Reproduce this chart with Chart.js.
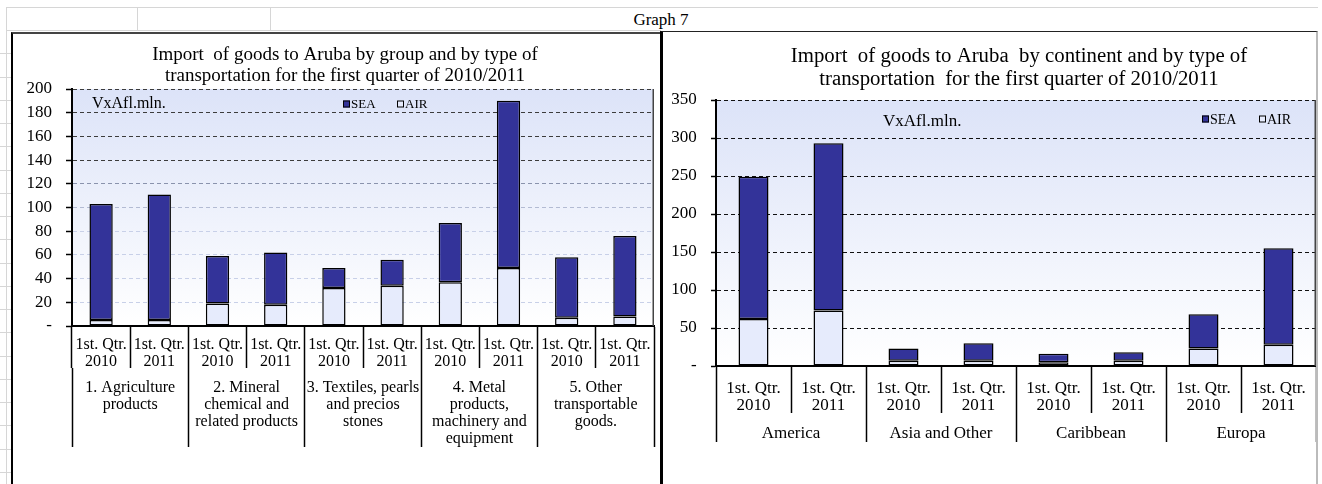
<!DOCTYPE html>
<html>
<head>
<meta charset="utf-8">
<script src="https://cdn.jsdelivr.net/npm/chart.js@4.4.0/dist/chart.umd.min.js"></script>
<style>
body{margin:0;background:#fff;width:1322px;height:484px;overflow:hidden;position:relative;font-family:'Liberation Serif','Times New Roman',serif}
.ln{position:absolute;background:#d6d6d6}
#graphTitle{position:absolute;left:0;width:1322px;top:10px;text-align:center;font-size:17px;line-height:20px}
#boxL{position:absolute;left:11px;top:32px;width:649px;height:460px;border-left:2px solid #000;border-top:2px solid #444}
#boxR{position:absolute;left:660px;top:31px;width:653px;height:460px;border-left:3px solid #000;border-top:1px solid #222;border-right:2px solid #bbb}
canvas{position:absolute}
</style>
</head>
<body>
<div id="grid"></div>
<div id="boxL"></div>
<div id="boxR"></div>
<div id="graphTitle">Graph 7</div>
<canvas id="cL" width="647" height="450" style="left:13px;top:34px"></canvas>
<canvas id="cR" width="653" height="452" style="left:663px;top:32px"></canvas>
<script>
// values (VxAfl. mln.)
var periods = [['1st. Qtr.', '2010'], ['1st. Qtr.', '2011']];

var groupsL = [['1. Agriculture', 'products'], ['2. Mineral', 'chemical and', 'related products'],
  ['3. Textiles, pearls', 'and precios', 'stones'], ['4. Metal', 'products,', 'machinery and', 'equipment'],
  ['5. Other', 'transportable', 'goods.']];
var airL = [5, 5, 19, 18, 32, 34, 37, 49, 7, 8];
var seaL = [98, 106, 40, 44, 17, 22, 50, 141, 51, 68];

var groupsR = ['America', 'Asia and Other', 'Caribbean', 'Europa'];
var airR = [62, 73, 7, 7, 5, 7, 23, 28];
var seaR = [187, 220, 16, 23, 11, 11, 45, 127];

var FONT = "'Liberation Serif', 'Times New Roman', serif";
var SEA_COLOR = '#333399';
var AIR_COLOR = '#e6ebfc';

// spreadsheet cell lines behind the charts
(function () {
  var g = document.getElementById('grid');
  function line(x, y, w, h) {
    var d = document.createElement('div');
    d.className = 'ln';
    d.style.cssText = 'left:' + x + 'px;top:' + y + 'px;width:' + w + 'px;height:' + h + 'px';
    g.appendChild(d);
  }
  line(6, 7, 1312, 1);
  line(6, 30, 655, 1);
  line(6, 7, 1, 480);
  line(137, 7, 1, 24);
  line(270, 7, 1, 24);
  for (var k = 2; k < 21; k++) line(0, Math.round(6.8 + 23.26 * k), 11, 1);
})();

var decor = {
  id: 'decor',
  beforeDraw: function (chart) {
    var ctx = chart.ctx, a = chart.chartArea;
    var g = ctx.createLinearGradient(0, a.top, 0, a.bottom);
    g.addColorStop(0, '#dce3f8');
    g.addColorStop(1, '#ffffff');
    ctx.save();
    ctx.fillStyle = g;
    ctx.fillRect(a.left, a.top, a.right - a.left, a.bottom - a.top);
    ctx.restore();
  },
  afterDraw: function (chart, args, o) {
    var ctx = chart.ctx, a = chart.chartArea;
    ctx.save();
    // right edge of plot
    ctx.strokeStyle = '#444';
    ctx.lineWidth = 1.5;
    ctx.beginPath();
    ctx.moveTo(a.right - 0.75, a.top);
    ctx.lineTo(a.right - 0.75, a.bottom);
    ctx.stroke();
    // title
    ctx.fillStyle = '#000';
    ctx.textAlign = 'center';
    ctx.textBaseline = 'middle';
    ctx.font = o.title.size + 'px ' + FONT;
    o.title.lines.forEach(function (t, i) {
      ctx.fillText(t, o.title.x, o.title.y + i * o.title.lh);
    });
    // unit note
    ctx.textAlign = 'left';
    ctx.font = o.note.size + 'px ' + FONT;
    ctx.fillText(o.note.text, o.note.x, o.note.y);
    // legend, SEA first
    ctx.font = o.legend.size + 'px ' + FONT;
    var x = o.legend.x;
    ['SEA', 'AIR'].forEach(function (name) {
      var ds = chart.data.datasets.find(function (d) { return d.label === name; });
      ctx.fillStyle = ds.backgroundColor;
      ctx.fillRect(x, o.legend.y - 3.5, 7, 7);
      ctx.strokeStyle = '#000';
      ctx.lineWidth = 1;
      ctx.strokeRect(x + 0.5, o.legend.y - 3, 6, 6);
      ctx.fillStyle = '#000';
      ctx.fillText(name, x + 8, o.legend.y + 1);
      x += o.legend.gap;
    });
    ctx.restore();
  }
};

function build(id, groups, air, sea, L) {
  var labels = [];
  groups.forEach(function () { labels.push(periods[0], periods[1]); });
  return new Chart(document.getElementById(id), {
    type: 'bar',
    data: {
      labels: labels,
      datasets: [
        { label: 'AIR', data: air, backgroundColor: AIR_COLOR },
        { label: 'SEA', data: sea, backgroundColor: SEA_COLOR }
      ]
    },
    options: {
      responsive: false,
      animation: false,
      layout: { padding: { left: 0, right: L.padRight, top: L.padTop, bottom: L.padBottom } },
      datasets: { bar: { barPercentage: 0.4, categoryPercentage: 1, borderColor: '#000', borderWidth: 1.5, borderSkipped: false } },
      plugins: {
        legend: { display: false },
        tooltip: { enabled: false },
        decor: L.decor
      },
      scales: {
        x: {
          stacked: true,
          offset: true,
          afterFit: function (s) { s.height = L.xH; },
          ticks: { autoSkip: false, maxRotation: 0, minRotation: 0, padding: L.xPad, color: '#000',
            font: { family: FONT, size: L.xSize, lineHeight: L.xLH } },
          grid: { drawOnChartArea: false, offset: true, tickLength: L.xH, tickColor: '#000', tickWidth: 1.5 },
          border: { color: '#000', width: 2 }
        },
        x2: {
          type: 'category',
          labels: groups,
          position: 'bottom',
          weight: 1,
          offset: true,
          afterFit: function (s) { s.height = L.x2H; },
          ticks: { autoSkip: false, maxRotation: 0, minRotation: 0, padding: L.x2Pad, color: '#000',
            font: { family: FONT, size: L.xSize, lineHeight: L.xLH } },
          grid: { drawOnChartArea: false, offset: true, tickLength: L.x2H, tickColor: '#000', tickWidth: 1.5 },
          border: { display: false }
        },
        y: {
          stacked: true,
          min: 0,
          max: L.max,
          afterFit: function (s) { s.width = L.yW; },
          ticks: { stepSize: L.step, padding: L.yPad, color: '#000', font: { family: FONT, size: L.ySize },
            callback: function (v) { return v === 0 ? '-' : v; } },
          grid: { color: L.gridColor, lineWidth: 1, tickColor: '#000', tickLength: L.yTick, tickWidth: 1.5, tickBorderDash: [] },
          border: { color: '#000', width: 2, dash: [4, 3] }
        }
      }
    },
    plugins: [decor]
  });
}

build('cL', groupsL, airL, seaL, {
  padRight: 6, padTop: 55, padBottom: 37,
  xH: 42, xPad: -31.5, x2H: 79, x2Pad: -67.5, xSize: 16, xLH: 1.05,
  max: 200, step: 20, yW: 59, yPad: 14, yTick: 6, ySize: 17,
  gridColor: function (c) {
    var v = c.tick.value;
    if (v >= 140) return '#3c3c3c';
    if (v >= 120) return '#8a93ad';
    if (v >= 100) return '#b3bbd3';
    return '#c8d0e8';
  },
  decor: {
    title: { lines: ['Import  of goods to Aruba by group and by type of', 'transportation for the first quarter of 2010/2011'], x: 332, y: 21, lh: 21.5, size: 19 },
    note: { text: 'VxAfl.mln.', x: 79, y: 70, size: 16 },
    legend: { x: 330, y: 70, gap: 54, size: 13 }
  }
});

build('cR', groupsR, airR, seaR, {
  padRight: 0, padTop: 68, padBottom: 42,
  xH: 47, xPad: -33, x2H: 29, x2Pad: -17, xSize: 17, xLH: 1.02,
  max: 350, step: 50, yW: 53, yPad: 14.3, yTick: 5, ySize: 17,
  gridColor: '#111',
  decor: {
    title: { lines: ['Import  of goods to Aruba  by continent and by type of', 'transportation  for the first quarter of 2010/2011'], x: 356, y: 25, lh: 22.5, size: 20.8 },
    note: { text: 'VxAfl.mln.', x: 220, y: 90, size: 17 },
    legend: { x: 539, y: 87, gap: 57, size: 14 }
  }
});
</script>
</body>
</html>
